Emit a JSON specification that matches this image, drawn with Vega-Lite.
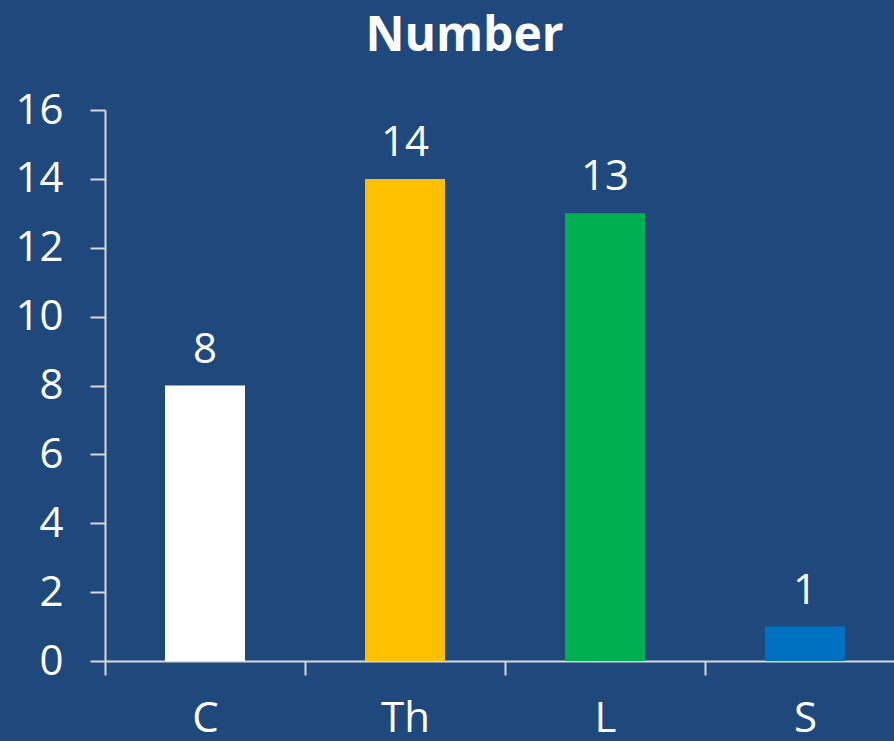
{
  "$schema": "https://vega.github.io/schema/vega-lite/v6.json",
  "width": 789,
  "height": 551,
  "autosize": {"type": "none"},
  "padding": {"left": 105, "top": 110, "right": 0, "bottom": 80},
  "background": "#1F497D",
  "config": {"view": {"stroke": null}, "font": "Open Sans"},
  "title": {"text": "Number", "font": "Open Sans", "fontSize": 48, "fontWeight": "bold", "color": "white", "dx": -35, "offset": 28},
  "data": {"values": [
    {"cat": "C", "value": 8},
    {"cat": "Th", "value": 14},
    {"cat": "L", "value": 13},
    {"cat": "S", "value": 1}
  ]},
  "encoding": {
    "x": {"field": "cat", "type": "nominal", "sort": null,
      "scale": {"range": [0, 800], "paddingInner": 0, "paddingOuter": 0},
      "axis": {"title": null, "labelAngle": 0, "tickBand": "extent", "tickSize": 14, "tickColor": "#D9D9D9", "domainColor": "#D9D9D9", "domainWidth": 2, "tickWidth": 2, "labelFontSize": 42, "labelColor": "white", "labelFont": "Open Sans", "labelPadding": 23}},
    "y": {"field": "value", "type": "quantitative",
      "scale": {"domain": [0, 16], "nice": false},
      "axis": {"title": null, "values": [0, 2, 4, 6, 8, 10, 12, 14, 16], "grid": false, "tickSize": 15, "tickColor": "#D9D9D9", "domainColor": "#D9D9D9", "domainWidth": 2, "tickWidth": 2, "labelFontSize": 42, "labelColor": "white", "labelFont": "Open Sans", "labelPadding": 27}}
  },
  "layer": [
    {"mark": {"type": "bar", "width": {"band": 0.4}},
     "encoding": {"color": {"field": "cat", "type": "nominal", "scale": {"domain": ["C", "Th", "L", "S"], "range": ["#FFFFFF", "#FFC000", "#00B050", "#0070C0"]}, "legend": null}}},
    {"mark": {"type": "text", "baseline": "alphabetic", "dy": -23, "fontSize": 42, "color": "white", "font": "Open Sans"},
     "encoding": {"text": {"field": "value", "type": "quantitative"}}}
  ]
}
